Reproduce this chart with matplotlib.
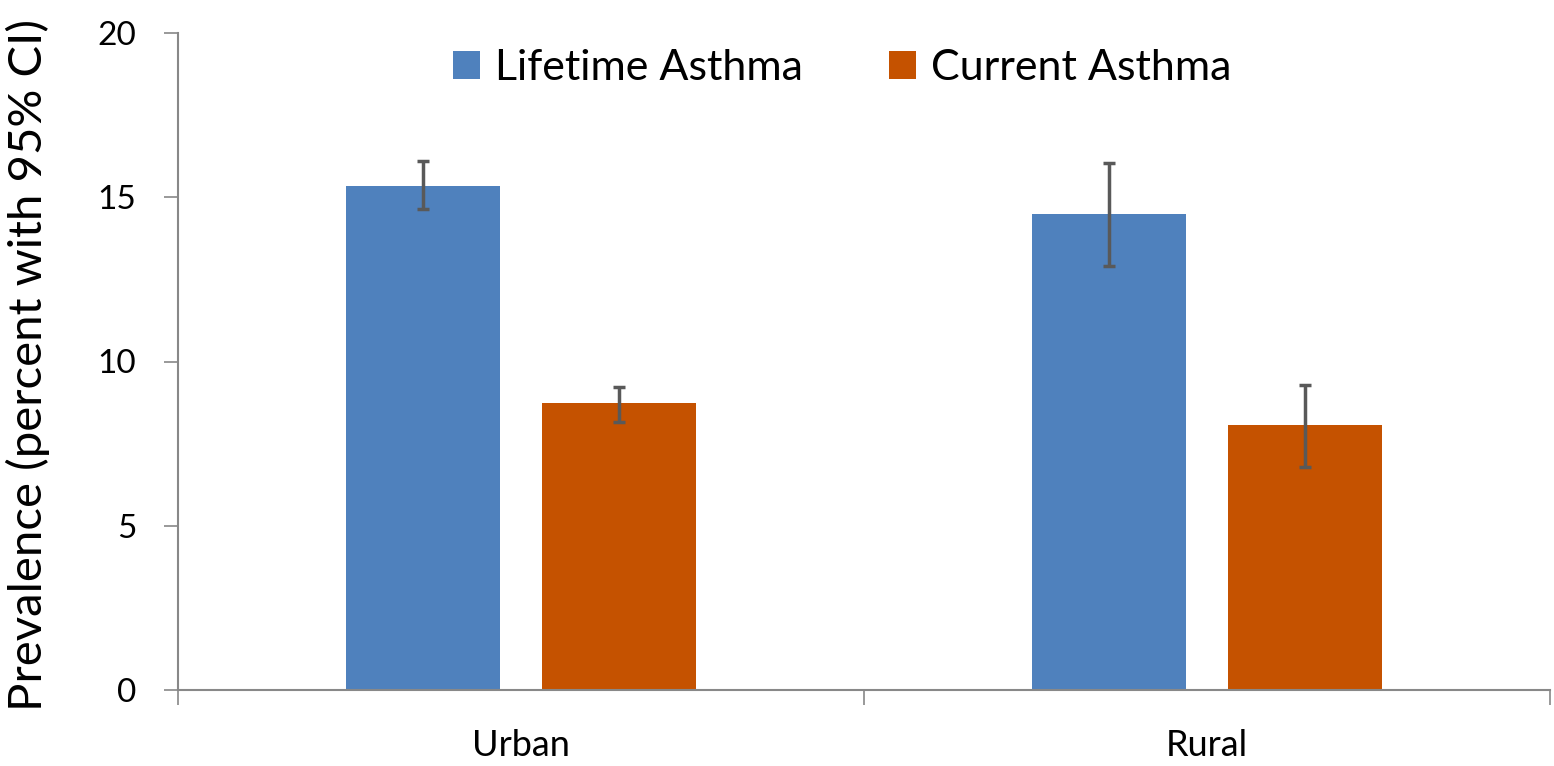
import matplotlib
matplotlib.use("Agg")
import matplotlib.pyplot as plt
import numpy as np

categories = ["Urban", "Rural"]
series_names = ["Lifetime Asthma", "Current Asthma"]
lifetime = [15.35, 14.48]
lifetime_lo = [14.64, 12.91]
lifetime_hi = [16.09, 16.04]
current = [8.73, 8.06]
current_lo = [8.16, 6.78]
current_hi = [9.23, 9.27]
colors = ["#4F81BD", "#C55200"]
yticks = [0, 5, 10, 15, 20]

plt.rcParams['font.family'] = ['Lato', 'DejaVu Sans']

fig = plt.figure(figsize=(15.54, 7.66), dpi=100)
ax = fig.add_axes([178/1554, 1-690/766, (1550-178)/1554, (690-33)/766])

x = np.arange(len(categories))
w = 0.225
off = 0.143
for vals, lo, hi, col, name, sgn in [
    (lifetime, lifetime_lo, lifetime_hi, colors[0], series_names[0], -1),
    (current, current_lo, current_hi, colors[1], series_names[1], 1)]:
    v = np.array(vals)
    err = np.vstack([v - np.array(lo), np.array(hi) - v])
    ax.bar(x + sgn*off, v, width=w, color=col, label=name, zorder=2)
    ax.errorbar(x + sgn*off, v, yerr=err, fmt='none', ecolor='#595959',
                elinewidth=2.5, capsize=4.3, capthick=2.5, zorder=3)

ax.set_xlim(-0.5, 1.5)
ax.set_ylim(0, 20)
ax.set_yticks(yticks)
ax.set_yticklabels([str(t) for t in yticks], fontsize=24)
ax.set_xticks(x)
ax.set_xticklabels(categories, fontsize=26)
ax.set_xticks([-0.5, 0.5, 1.5], minor=True)
ax.tick_params(axis='x', which='major', length=0, pad=28)
ax.tick_params(axis='x', which='minor', length=11, width=1.2, color='#888888', direction='out')
ax.tick_params(axis='y', length=10, width=1.2, color='#888888', direction='out', pad=20)
for s in ['top', 'right']:
    ax.spines[s].set_visible(False)
for s in ['left', 'bottom']:
    ax.spines[s].set_color('#888888')
    ax.spines[s].set_linewidth(1.5)

fig.text(28/1554, 1-365/766, "Prevalence (percent with 95% CI)", fontsize=34,
         rotation=90, ha='center', va='center')

leg = ax.legend(loc='center', bbox_to_anchor=((842-178)/1372, (690-68)/657), ncol=2,
                frameon=False, fontsize=31, handlelength=0.62, handleheight=0.62,
                columnspacing=2.0, handletextpad=0.35, borderpad=0)

fig.savefig("out.png", dpi=100)
